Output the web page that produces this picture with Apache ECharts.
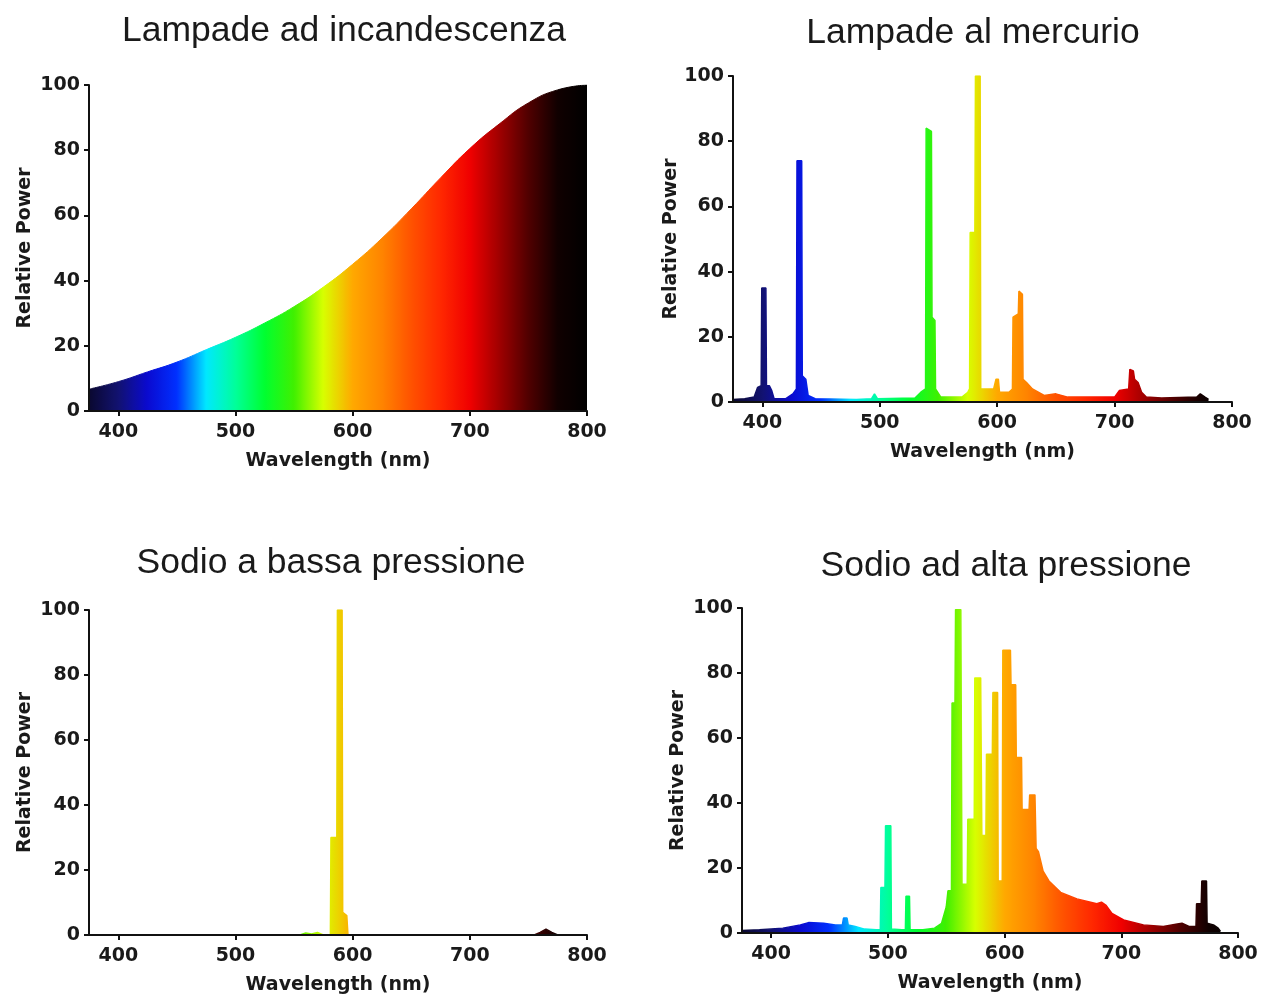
<!DOCTYPE html>
<html>
<head>
<meta charset="utf-8">
<script src="https://cdn.jsdelivr.net/npm/echarts@6/dist/echarts.min.js"></script>
<style>
  html, body { margin: 0; padding: 0; background: #fff; }
  #chart { width: 1270px; height: 998px; }
</style>
</head>
<body>
<div id="chart"></div>
<script>
// Panel titles
const titles = [
  'Lampade ad incandescenza',
  'Lampade al mercurio',
  'Sodio a bassa pressione',
  'Sodio ad alta pressione'
];
const xAxisName = 'Wavelength (nm)';
const yAxisName = 'Relative Power';
const xTicks = [400, 500, 600, 700, 800];
const yTicks = [0, 20, 40, 60, 80, 100];

// Incandescent lamp: smooth blackbody-like curve [nm, relative power]
const incandescent = [
  [375, 6.7], [400, 9.0], [425, 12.0], [450, 15.0], [475, 18.8], [500, 22.6],
  [525, 27.0], [550, 32.0], [575, 38.0], [600, 45.0], [625, 53.0], [650, 62.0],
  [675, 71.5], [700, 80.5], [725, 88.0], [750, 94.5], [775, 98.5], [800, 100]
];

// Mercury lamp: line spectrum
const mercury = [
  [375, 0.8], [385, 1], [393, 1.5], [396, 4.5], [399, 5], [399.5, 35], [403, 35], [403.5, 5],
  [406, 5], [408, 3.5], [410, 1], [420, 1], [426, 2.5], [429, 4], [429.5, 74], [433.5, 74],
  [434, 8], [437, 7], [439, 2], [445, 1], [480, 0.8], [493, 1], [495.5, 2.5], [498, 1],
  [530, 1.2], [535, 3], [539, 4], [539.5, 84], [544, 83], [544.5, 26], [547, 25], [547.5, 4],
  [552, 1.5], [570, 1.5], [575, 3], [576.5, 4], [577, 52], [581, 52], [581.5, 100], [585.5, 100],
  [586, 4], [592, 4], [597, 4], [599, 7], [601, 7], [602, 3], [610, 3], [613, 4], [613.5, 26],
  [618, 27], [618.5, 34], [621.5, 33], [622, 7], [625, 6], [630, 4], [640, 2], [650, 2.5],
  [660, 1.5], [700, 1.5], [704, 3.5], [712, 4], [713, 10], [716, 9.5], [717, 7], [720, 6],
  [723, 3], [727, 1.5], [740, 1.2], [770, 1.5], [773, 2.5], [777, 1.5], [780, 0.8]
];

// Low-pressure sodium lamp: almost monochromatic D line
const sodiumLow = [
  [375, 0], [555, 0], [560, 0.6], [565, 0.3], [570, 0.8], [575, 0], [581, 0], [581.5, 30],
  [586.5, 30], [587, 100], [591, 100], [591.5, 7], [595, 6], [596, 0], [755, 0], [760, 0.8],
  [765, 1.8], [770, 0.8], [775, 0], [800, 0]
];

// High-pressure sodium lamp: broadened spectrum
const sodiumHigh = [
  [375, 0.8], [390, 1], [410, 1.5], [425, 2.5], [432, 3.2], [445, 3], [455, 2.5], [461, 2.5],
  [462, 4.6], [465, 4.6], [466, 2.5], [472, 2], [480, 1.2], [490, 1], [493.5, 1], [494, 14],
  [497.5, 14], [498, 33], [502.5, 33], [503, 1.2], [512, 1], [515, 1], [515.5, 11.3], [518.5, 11.3],
  [519, 1], [530, 1], [540, 1.5], [546, 3], [550, 8], [551.5, 13], [554.5, 13], [555, 70.8],
  [557.5, 70.8], [558, 99.5], [562.5, 99.5], [563.5, 15], [568, 15], [568.5, 35], [574, 35],
  [574.5, 78.5], [579.5, 78.5], [580.5, 30], [584, 30], [584.5, 55], [589.5, 55], [590, 74],
  [594, 74], [594.5, 16], [598, 16], [598.5, 87], [605, 87], [605.5, 76.4], [609.5, 76.4],
  [610, 54], [614.5, 54], [615, 38], [621, 38], [621.5, 42.5], [626, 42.5], [627, 26], [629, 25],
  [633, 19], [638, 16], [648, 12.5], [662, 10.5], [679, 9], [683, 9.5], [687, 8.5], [692, 6],
  [702, 4], [719, 2.5], [736, 2], [748, 2.8], [752, 3], [758, 2], [764, 2], [764.5, 9],
  [768.5, 9], [769, 16], [773, 16], [773.5, 3], [779, 2.5], [783, 1.5], [785, 0.5]
];

// Wavelength colour palette, evenly spaced every 25 nm from 375 to 800
const spectrumColors = [
  '#0a0830', '#121270', '#0a0ad0', '#0030ff', '#00e8ff', '#00ff9a',
  '#00ff30', '#40f000', '#d8ff00', '#ffa800', '#ff8400', '#ff5200',
  '#ff2800', '#f00000', '#a00000', '#500000', '#100000', '#000000'
];

const panelData = [incandescent, mercury, sodiumLow, sodiumHigh];

const grids = [
  { left: 89, top: 85, width: 498, height: 326 },
  { left: 733, top: 76, width: 499, height: 326 },
  { left: 89, top: 610, width: 498, height: 325 },
  { left: 742, top: 608, width: 496, height: 325 }
];
const titlePos = [
  { x: 339, y: 8 }, { x: 968, y: 10 }, { x: 326, y: 540 }, { x: 1001, y: 543 }
];
const yNameGaps = [54, 50, 54, 54];

const textColor = '#1a1a1a';
const tickFont = { fontFamily: 'DejaVu Sans', fontWeight: 'bold', fontSize: 19, color: textColor };
const nameFont = { fontFamily: 'DejaVu Sans', fontWeight: 'bold', fontSize: 19, color: textColor };

const axisLine = { show: true, onZero: false, lineStyle: { color: '#111', width: 2 } };

const option = {
  backgroundColor: '#ffffff',
  animation: false,
  title: titles.map((t, i) => ({
    text: t,
    left: titlePos[i].x,
    top: titlePos[i].y,
    textAlign: 'center',
    textStyle: { fontFamily: 'Liberation Sans', fontWeight: 'normal', fontSize: 35.5, color: textColor }
  })),
  grid: grids,
  xAxis: grids.map((g, i) => ({
    type: 'value',
    gridIndex: i,
    min: 375,
    max: 800,
    z: 5,
    name: xAxisName,
    nameLocation: 'middle',
    nameGap: 41,
    nameTextStyle: nameFont,
    axisLine: axisLine,
    axisTick: { show: true, length: 5, customValues: xTicks, lineStyle: { color: '#111', width: 2 } },
    axisLabel: Object.assign({ margin: 12, customValues: xTicks }, tickFont),
    splitLine: { show: false }
  })),
  yAxis: grids.map((g, i) => ({
    type: 'value',
    gridIndex: i,
    min: 0,
    max: 100,
    interval: 20,
    z: 5,
    name: yAxisName,
    nameLocation: 'middle',
    nameRotate: 90,
    nameGap: yNameGaps[i],
    nameTextStyle: nameFont,
    axisLine: axisLine,
    axisTick: { show: true, length: 5, lineStyle: { color: '#111', width: 2 } },
    axisLabel: Object.assign({ margin: 9 }, tickFont),
    splitLine: { show: false }
  })),
  visualMap: {
    type: 'continuous',
    show: false,
    dimension: 0,
    min: 375,
    max: 800,
    seriesIndex: [0, 1, 2, 3],
    inRange: { color: spectrumColors }
  },
  series: panelData.map((d, i) => ({
    type: 'line',
    xAxisIndex: i,
    yAxisIndex: i,
    data: d,
    smooth: i === 0,
    showSymbol: false,
    symbol: 'none',
    lineStyle: { width: i === 0 ? 1 : 1.5 },
    areaStyle: { opacity: 1 }
  }))
};

const chart = echarts.init(document.getElementById('chart'), null, { renderer: 'canvas' });
chart.setOption(option);
</script>
</body>
</html>
